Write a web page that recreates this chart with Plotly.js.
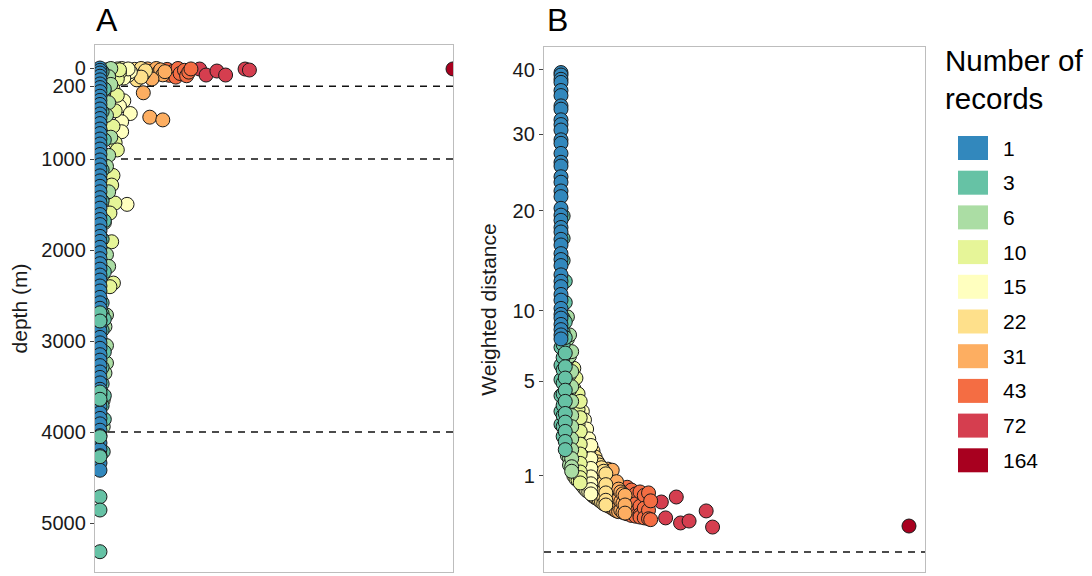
<!DOCTYPE html>
<html><head><meta charset="utf-8">
<script src="https://cdn.plot.ly/plotly-3.0.1.min.js"></script>
<style>html,body{margin:0;padding:0;background:#fff;} #chart{width:1092px;height:576px;}</style>
</head><body><div id="chart"></div>
<script>
// ---------- legend (number of records) ----------
const legendBreaks = [1, 3, 6, 10, 15, 22, 31, 43, 72, 164];
const legendColors = ['#3288BD', '#66C2A5', '#ABDDA4', '#E6F598', '#FFFFBF', '#FEE08B', '#FDAE61', '#F46D43', '#D53E4F', '#A8001F'];

// ---------- panel A : [records, depth (m)] per colour class ----------
const aDepthTicks = [0, 200, 1000, 2000, 3000, 4000, 5000];
const aDepthLines = [200, 1000, 4000];
const aClass1 = [[1,0],[1,25],[1,55],[1,90],[1,130],[1,175],[1,215],[1,260],[1,310],[1,355],[1,400],[1,450],[1,505],[1,555],[1,610],[1,670],[1,720],[1,780],[1,835],[1,890],[1,950],[1,1010],[1,1065],[1,1120],[1,1185],[1,1240],[1,1300],[1,1360],[1,1425],[1,1480],[1,1540],[1,1610],[1,1665],[1,1720],[1,1790],[1,1850],[1,1905],[1,1970],[1,2030],[1,2095],[1,2150],[1,2210],[1,2275],[1,2330],[1,2395],[1,2450],[1,2520],[1,2580],[1,2640],[1,2700],[1,2770],[1,2830],[1,2890],[1,2960],[1,3020],[1,3080],[1,3150],[1,3210],[1,3270],[1,3340],[1,3400],[1,3460],[1,3530],[1,3590],[1,3660],[1,3720],[1,3790],[1,3850],[1,3910],[1,3980],[1,4040],[1,4120],[1,4190],[1,4260],[1,4340],[1,4420]];
const aClass3 = [[2,40],[3,230],[2,480],[3,790],[2,1120],[2,1460],[3,1680],[2,1880],[3,2240],[2,2580],[2,2700],[3,2760],[2,2880],[3,3120],[2,3290],[2,3470],[3,3600],[2,3710],[3,3860],[2.5,4216]];
const aClass3Front = [[1,2690],[1,2780],[1,3560],[1,3640],[1,4051],[1,4271],[1,4711],[1,4857],[1,5315]];
const aClass6 = [[4,20],[5,60],[6,5],[5,95],[6,180],[5,380],[4,520],[6,760],[5,960],[4,1080],[5,1360],[4,2050],[3,1700],[5,2180],[4,2714],[3.3,2842],[4,3242],[4,3050],[3.3,3352],[2.5,3648],[2.5,3941]];
const aClass10 = [[7,30],[8,70],[9,10],[10,50],[8,100],[9,120],[10,20],[7,230],[9,300],[8,470],[7,640],[8,820],[9,900],[7,1180],[6.4,1286],[7.9,1484],[5.6,1593],[6.4,1909],[7.2,2363],[5.6,2403]];
const aClass15 = [[11,5],[12,60],[13,25],[14,80],[15,40],[12,110],[14,10],[12,360],[10,420],[15,500],[11,590],[11,700],[13.5,1498]];
const aClass22 = [[16,55],[17,15],[18,85],[19,35],[20,5],[21,65],[22,30],[18,130],[20,100]];
const aClass31 = [[23,10],[24,70],[25,35],[26,90],[27,5],[28,50],[29,20],[30,75],[31,40],[25,120],[21,272],[24,540],[30,570]];
const aClass43 = [[32,15],[33,80],[35,35],[36,100],[37,5],[38,60],[40,25],[41,85],[42,45],[43,10]];
const aClass72 = [[47,11],[50,77],[55,33],[59,77],[68,11],[70,22]];
const aClass164 = [[164,10]];

// ---------- panel B : [records, weighted distance] per colour class ----------
const bDistTicks = [1, 5, 10, 20, 30, 40];
const bClass1 = [[1,39.5],[1,39.1],[1,38.4],[1,37.9],[1,36.6],[1,35.8],[1,34.2],[1,33.7],[1,32.1],[1,31.4],[1,30.6],[1,29.2],[1,28.7],[1,27.3],[1,26.1],[1,25.6],[1,24.2],[1,23.5],[1,22.4],[1,21.7],[1,20.3],[1,19.5],[1,18.9],[1,18.1],[1,17.6],[1,16.8],[1,16.2],[1,15.3],[1,14.7],[1,14.1],[1,13.2],[1,12.6],[1,12.1],[1,11.4],[1,10.9],[1,10.2],[1,9.7],[1,9.4],[1,8.9],[1,8.5],[1,8.1],[1,7.8]];
const bClass3 = [[1,7.2],[1,6.0],[1,5.1],[1,4.2],[1,3.4],[1,2.8],[2,19.4],[2,16.9],[2,14.6],[2,12.5],[2,10.8],[2,9.4],[2,8.3],[2,7.4],[2,6.5],[2,5.7],[2,4.9],[2,4.3],[2,3.7],[2,3.2],[2,2.7],[2,2.3],[3,12.6],[3,10.7],[3,9.1],[3,7.9],[3,6.8],[3,5.9],[3,5.2],[3,4.5],[3,3.9],[3,3.3],[3,2.9],[3,2.5],[3,2.1],[3,1.8]];
const bClass6 = [[4,9.5],[4,7.8],[4,6.4],[4,5.3],[4,4.4],[4,3.7],[4,3.1],[4,2.6],[4,2.2],[4,1.9],[4,1.6],[5,8.1],[5,6.6],[5,5.4],[5,4.5],[5,3.8],[5,3.1],[5,2.6],[5,2.1],[5,1.8],[5,1.5],[5,1.3],[6,6.9],[6,5.6],[6,4.7],[6,3.9],[6,3.2],[6,2.7],[6,2.2],[6,1.8],[6,1.5],[6,1.25],[6,1.12]];
const bClass10 = [[7,5.8],[7,4.6],[7,3.8],[7,3.1],[7,2.6],[7,2.1],[7,1.7],[7,1.4],[7,1.15],[7,1.0],[8,5.2],[8,4.0],[8,3.3],[8,2.7],[8,2.2],[8,1.8],[8,1.5],[8,1.2],[8,1.02],[8,0.92],[9,4.3],[9,3.5],[9,2.8],[9,2.3],[9,1.9],[9,1.55],[9,1.25],[9,1.05],[9,0.88],[10,3.9],[10,3.1],[10,2.5],[10,2.0],[10,1.65],[10,1.35],[10,1.1],[10,0.95],[10,0.82]];
const bClass15 = [[11,3.4],[11,2.6],[11,2.0],[11,1.6],[11,1.3],[11,1.05],[11,0.86],[11,0.76],[12,3.0],[12,2.3],[12,1.8],[12,1.4],[12,1.12],[12,0.92],[12,0.78],[12,0.7],[13,2.6],[13,2.0],[13,1.55],[13,1.25],[13,1.0],[13,0.82],[13,0.7],[13,0.65],[14,2.2],[14,1.7],[14,1.35],[14,1.1],[14,0.9],[14,0.75],[14,0.62],[15,1.95],[15,1.5],[15,1.2],[15,0.97],[15,0.8],[15,0.67],[15,0.58]];
const bClass22 = [[16,1.75],[16,1.3],[16,1.0],[16,0.8],[16,0.63],[16,0.54],[17,1.55],[17,1.18],[17,0.92],[17,0.72],[17,0.58],[17,0.51],[18,1.4],[18,1.07],[18,0.84],[18,0.66],[18,0.49],[19,1.3],[19,0.98],[19,0.76],[19,0.6],[19,0.46],[20,1.22],[20,0.9],[20,0.7],[20,0.55],[20,0.43],[21,1.12],[21,0.83],[21,0.64],[21,0.5],[21,0.4],[22,1.05],[22,0.78],[22,0.6],[22,0.46],[22,0.38]];
const bClass31 = [[23,1.18],[23,0.7],[23,0.5],[23,0.37],[24,0.95],[24,0.65],[24,0.46],[24,0.35],[25,1.15],[25,0.82],[25,0.6],[25,0.42],[25,0.33],[26,0.75],[26,0.55],[26,0.4],[26,0.31],[27,0.85],[27,0.52],[27,0.37],[27,0.29],[28,0.68],[28,0.48],[28,0.34],[28,0.28],[29,0.62],[29,0.44],[29,0.3],[30,0.58],[30,0.41],[30,0.27],[31,0.55],[31,0.38],[31,0.26]];
const bClass43 = [[32,0.72],[32,0.5],[32,0.34],[32,0.25],[34,0.66],[34,0.46],[34,0.3],[34,0.23],[36,0.58],[36,0.4],[36,0.27],[36,0.22],[38,0.62],[38,0.36],[38,0.24],[38,0.21],[40,0.55],[40,0.33],[40,0.2],[42,0.6],[42,0.3],[42,0.19],[43,0.45],[43,0.18]];
const bClass72 = [[48,0.43],[55,0.52],[50,0.2],[57,0.145],[61,0.165],[69,0.29],[72,0.107]];
const bClass164 = [[164,0.116]];

// ---------- build traces ----------
function colorOf(cls){ return legendColors[legendBreaks.indexOf(cls)]; }
function build(groups, yfn){
  const x = [], y = [], c = [];
  groups.forEach(([pts, cls]) => pts.forEach(p => { x.push(p[0]); y.push(yfn(p[1])); c.push(colorOf(cls)); }));
  return {x, y, c};
}
const A = build([[aClass164,164],[aClass72,72],[aClass43,43],[aClass31,31],[aClass22,22],[aClass15,15],[aClass10,10],[aClass6,6],[aClass3,3],[aClass1,1],[aClass3Front,3]], v => v);
const B = build([[bClass164,164],[bClass72,72],[bClass43,43],[bClass31,31],[bClass22,22],[bClass15,15],[bClass10,10],[bClass6,6],[bClass3,3],[bClass1,1]], v => Math.sqrt(v));

const mk = c => ({size: 14, color: c, line: {color: '#1a1a1a', width: 1}, opacity: 1});
const traces = [
  {type: 'scatter', mode: 'markers', x: A.x, y: A.y, xaxis: 'x', yaxis: 'y', marker: mk(A.c), hoverinfo: 'skip', cliponaxis: true},
  {type: 'scatter', mode: 'markers', x: B.x, y: B.y, xaxis: 'x2', yaxis: 'y2', marker: mk(B.c), hoverinfo: 'skip', cliponaxis: true}
];

const FONT = 'Liberation Sans, Arial, Helvetica, sans-serif';
const W = 1092, H = 576;
const boxAxis = {showgrid: false, zeroline: false, showline: true, mirror: true, linecolor: '#bdbdbd', linewidth: 1.2, automargin: false, fixedrange: true};
const yAxisStyle = Object.assign({}, boxAxis, {ticks: 'outside', ticklen: 4, tickwidth: 1, tickcolor: '#444', tickfont: {size: 20, color: '#1a1a1a', family: FONT}});

const shapes = [];
aDepthLines.forEach(d => shapes.push({type: 'line', xref: 'x domain', x0: 0, x1: 1, yref: 'y', y0: d, y1: d, layer: 'below', line: {color: '#111', width: 1.6, dash: '7px,6px'}}));
shapes.push({type: 'line', xref: 'x2 domain', x0: 0, x1: 1, yref: 'y2', y0: 0, y1: 0, layer: 'below', line: {color: '#111', width: 1.6, dash: '7px,6px'}});

const annotations = [
  {text: 'A', x: 107 / W, y: 1 - 20 / H, xref: 'paper', yref: 'paper', showarrow: false, xanchor: 'center', yanchor: 'middle', font: {size: 32, color: '#000', family: FONT}},
  {text: 'B', x: 557 / W, y: 1 - 20 / H, xref: 'paper', yref: 'paper', showarrow: false, xanchor: 'center', yanchor: 'middle', font: {size: 32, color: '#000', family: FONT}},
  {text: 'Number of<br>records', x: 943 / W, y: 1 - 79 / H, xref: 'paper', yref: 'paper', showarrow: false, xanchor: 'left', yanchor: 'middle', align: 'left', font: {size: 29.5, color: '#000', family: FONT}}
];
legendBreaks.forEach((b, i) => {
  const cy = 148 + i * 34.7;
  shapes.push({type: 'rect', xref: 'paper', yref: 'paper', x0: 958 / W, x1: 988 / W, y0: 1 - (cy + 12) / H, y1: 1 - (cy - 12) / H, fillcolor: legendColors[i], line: {width: 0}});
  annotations.push({text: String(b), x: 1001 / W, y: 1 - cy / H, xref: 'paper', yref: 'paper', showarrow: false, xanchor: 'left', yanchor: 'middle', font: {size: 21, color: '#000', family: FONT}});
});

const layout = {
  width: W, height: H, margin: {l: 0, r: 0, t: 0, b: 0}, paper_bgcolor: '#fff', plot_bgcolor: '#fff',
  showlegend: false, font: {family: FONT, color: '#1a1a1a'},
  xaxis: Object.assign({}, boxAxis, {domain: [95 / W, 453 / W], range: [-1.3, 164], showticklabels: false, ticks: '', anchor: 'y'}),
  yaxis: Object.assign({}, yAxisStyle, {domain: [1 - 572 / H, 1 - 45 / H], range: [5538, -253], tickvals: aDepthTicks, ticktext: aDepthTicks.map(String), anchor: 'x', title: {text: 'depth (m)', font: {size: 21, color: '#1a1a1a', family: FONT}, standoff: 8}}),
  xaxis2: Object.assign({}, boxAxis, {domain: [544 / W, 925 / W], range: [-6.96, 171.5], showticklabels: false, ticks: '', anchor: 'y2'}),
  yaxis2: Object.assign({}, yAxisStyle, {domain: [1 - 572 / H, 1 - 47 / H], range: [-0.262, 6.62], tickvals: bDistTicks.map(Math.sqrt), ticktext: bDistTicks.map(String), anchor: 'x2', title: {text: 'Weighted distance', font: {size: 21, color: '#1a1a1a', family: FONT}, standoff: 10}}),
  shapes: shapes, annotations: annotations
};
Plotly.newPlot('chart', traces, layout, {staticPlot: true, displayModeBar: false});
</script></body></html>
